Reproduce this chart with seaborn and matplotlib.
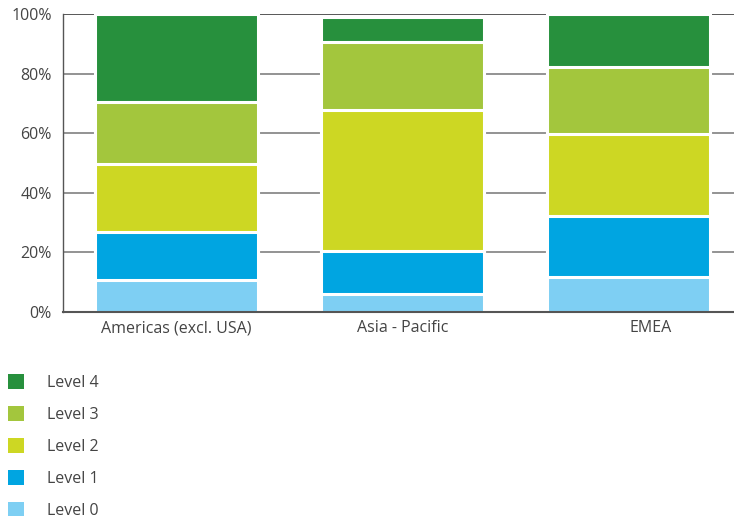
import matplotlib
matplotlib.use("Agg")
import matplotlib.pyplot as plt
import matplotlib.transforms as mtransforms
from matplotlib.patches import Patch
import numpy as np
import pandas as pd
import seaborn as sns

regions = ["Americas (excl. USA)", "Asia - Pacific", "EMEA"]
levels = ["Level 0", "Level 1", "Level 2", "Level 3", "Level 4"]
level0 = [10.7, 5.9, 11.6]
level1 = [16.1, 14.7, 20.6]
level2 = [22.8, 47.3, 27.6]
level3 = [20.8, 22.7, 22.3]
level4 = [29.6, 8.4, 17.9]
colors = ["#7ECFF3", "#00A5E1", "#CDD723", "#A3C63D", "#27903D"]
yticks = [0, 20, 40, 60, 80, 100]
ytick_labels = ["0%", "20%", "40%", "60%", "80%", "100%"]

sns.set_theme(style="white")
plt.rcParams["font.family"] = ["Open Sans", "DejaVu Sans"]

series = [level0, level1, level2, level3, level4]
cum = np.cumsum(np.array(series), axis=0)

fig = plt.figure(figsize=(7.34, 5.19), dpi=100)
W, H = 734, 519
ax = fig.add_axes([63 / W, (519 - 312) / H, (734 - 63) / W, (312 - 14) / H])

# draw cumulative totals, highest first, so lower levels overlay
for i in range(len(levels) - 1, -1, -1):
    df = pd.DataFrame({"region": regions, "value": cum[i]})
    sns.barplot(data=df, x="region", y="value", color=colors[i], ax=ax,
                width=0.72, edgecolor="white", linewidth=2.2, saturation=1,
                zorder=3)

ax.set_xlim(-0.503, 2.466)
ax.set_ylim(0, 100)
ax.set_yticks(yticks)
ax.set_yticklabels(ytick_labels)
ax.set_xlabel("")
ax.set_ylabel("")

ax.yaxis.grid(True, color="#8a8a8a", linewidth=1.3, zorder=0)
ax.set_axisbelow(True)
ax.axhline(100, color="#555555", linewidth=1.3, zorder=1)

for s in ["top", "right"]:
    ax.spines[s].set_visible(False)
ax.spines["left"].set_color("#555555")
ax.spines["left"].set_linewidth(1.0)
ax.spines["bottom"].set_color("#555555")
ax.spines["bottom"].set_linewidth(1.5)
ax.spines["bottom"].set_zorder(5)

ax.tick_params(axis="y", length=0, pad=8, labelsize=11.5, labelcolor="#444444")
ax.tick_params(axis="x", length=0, pad=6, labelsize=11.5, labelcolor="#444444")

# EMEA label is shifted right in the reference
lbls = ax.get_xticklabels()
offset = mtransforms.ScaledTranslation(22 / 100, 0, fig.dpi_scale_trans)
lbls[2].set_transform(lbls[2].get_transform() + offset)

handles = [Patch(facecolor=colors[i], edgecolor="none", label=levels[i])
           for i in range(len(levels) - 1, -1, -1)]
leg = fig.legend(handles=handles, loc="upper left",
                 bbox_to_anchor=(2 / W, 1 - 368 / H), frameon=False,
                 fontsize=11.5, handlelength=1.0, handleheight=1.0,
                 handletextpad=1.4, labelspacing=0.96, borderaxespad=0)
for t in leg.get_texts():
    t.set_color("#444444")

fig.savefig("out.png", dpi=100)
